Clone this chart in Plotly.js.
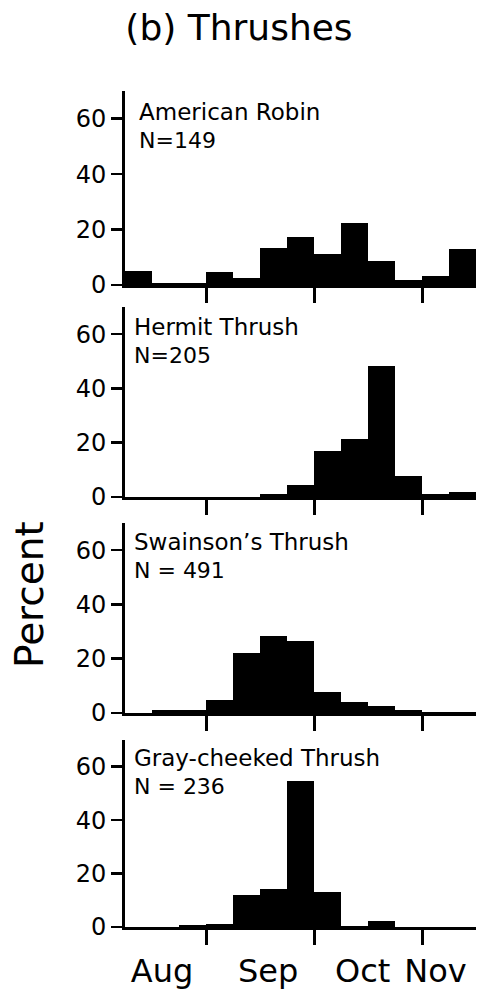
<!DOCTYPE html>
<html>
<head>
<meta charset="utf-8">
<script src="https://cdn.plot.ly/plotly-3.0.1.min.js"></script>
<style>html,body{margin:0;padding:0;background:#fff;}</style>
</head>
<body>
<div id="chart" style="width:484px;height:994px;"></div>
<script>
// Weekly bins (13 bins, Aug -> Nov); values are percent of birds per bin
const binCount = 13;
const species = ["American Robin", "Hermit Thrush", "Swainson\u2019s Thrush", "Gray-cheeked Thrush"];
const sampleSizes = ["N=149", "N=205", "N = 491", "N = 236"];
const robin      = [5, 0.7, 0.7, 4.5, 2.4, 13.4, 17.2, 11.3, 22.2, 8.5, 1.8, 3.2, 12.9];
const hermit     = [0, 0, 0, 0, 0, 1, 4.3, 17.1, 21.2, 48.4, 7.6, 1.2, 1.9];
const swainsons  = [0, 1, 1, 4.9, 22.1, 28.2, 26.7, 7.9, 3.9, 2.7, 1.2, 0.4, 0.2];
const grayCheek  = [0, 0, 0.6, 1.2, 12, 14.2, 54.7, 13.2, 0.5, 2.1, 0, 0, 0];
const monthBoundaries = [3, 7, 11];          // Sep 1, Oct 1, Nov 1 in bin units
const monthNames = ["Aug", "Sep", "Oct", "Nov"];
const monthLabelPos = [1.37, 5.3, 8.8, 11.5];
const yTicks = [0, 20, 40, 60];

const series = [robin, hermit, swainsons, grayCheek];
const FONT = "DejaVu Sans";
const domains = [[0.768, 1.0], [0.5144, 0.7416], [0.256, 0.4833], [0, 0.2237]];
const nameXShift = [12, 7, 7, 7];
// label centres in page pixels (plot area spans 91..927 vertically)
const namePy = [111.5, 327.25, 541.5, 758.25];
const nPy = [140, 355.75, 570, 786.75];
const toPaperY = py => (927 - py) / 836;

const traces = series.map((vals, i) => ({
  type: "bar",
  x: vals.map((_, k) => k + 0.5),
  y: vals,
  width: 1,
  marker: {color: "#000", line: {width: 0}},
  xaxis: i === 0 ? "x" : "x" + (i + 1),
  yaxis: i === 0 ? "y" : "y" + (i + 1),
  hoverinfo: "skip",
  showlegend: false
}));

const layout = {
  width: 484, height: 994,
  margin: {l: 125, r: 8, t: 91, b: 67},
  paper_bgcolor: "#fff", plot_bgcolor: "#fff",
  bargap: 0,
  showlegend: false,
  font: {family: FONT, color: "#000"},
  title: {
    text: "(b) Thrushes",
    font: {family: FONT, size: 36, color: "#000"},
    xref: "container", x: 239 / 484, xanchor: "center",
    yref: "container", y: 1 - 27 / 994, yanchor: "middle"
  },
  annotations: []
};

for (let i = 0; i < 4; i++) {
  const sx = i === 0 ? "" : String(i + 1);
  layout["xaxis" + sx] = {
    domain: [0, 1], range: [0, binCount], anchor: "y" + sx,
    showline: true, linewidth: 3, linecolor: "#000",
    ticks: "outside", tickmode: "array", tickvals: monthBoundaries,
    ticklen: 15, tickwidth: 3, tickcolor: "#000",
    showticklabels: false, showgrid: false, zeroline: false, fixedrange: true
  };
  layout["yaxis" + sx] = {
    domain: domains[i], range: [0, 70], anchor: "x" + sx,
    showline: true, linewidth: 3, linecolor: "#000",
    ticks: "outside", tickmode: "array", tickvals: yTicks,
    ticklen: 11, tickwidth: 2.5, tickcolor: "#000",
    tickfont: {family: FONT, size: 24, color: "#000"},
    showgrid: false, zeroline: false, fixedrange: true
  };
  layout.annotations.push({
    xref: "x" + sx + " domain", yref: "paper",
    x: 0, y: toPaperY(namePy[i]), xanchor: "left", yanchor: "middle", xshift: nameXShift[i],
    text: species[i], showarrow: false,
    font: {family: FONT, size: 23, color: "#000"}
  });
  layout.annotations.push({
    xref: "x" + sx + " domain", yref: "paper",
    x: 0, y: toPaperY(nPy[i]), xanchor: "left", yanchor: "middle", xshift: nameXShift[i],
    text: sampleSizes[i], showarrow: false,
    font: {family: FONT, size: 22, color: "#000"}
  });
}

// month labels on an overlaying axis of the bottom panel
layout.xaxis5 = {
  overlaying: "x4", anchor: "y4", side: "bottom",
  range: [0, binCount], showline: false, ticks: "",
  tickmode: "array", tickvals: monthLabelPos, ticktext: monthNames,
  tickfont: {family: FONT, size: 32, color: "#000"},
  ticklabelstandoff: 22,
  showgrid: false, zeroline: false, fixedrange: true
};
traces.push({type: "bar", x: [0.5], y: [0], xaxis: "x5", yaxis: "y4",
  marker: {color: "rgba(0,0,0,0)"}, hoverinfo: "skip", showlegend: false});

layout.annotations.push({
  xref: "paper", yref: "paper",
  x: (29 - 125) / 351, y: toPaperY(594),
  xanchor: "center", yanchor: "middle", textangle: -90,
  text: "Percent", showarrow: false,
  font: {family: FONT, size: 39, color: "#000"}
});

Plotly.newPlot("chart", traces, layout, {staticPlot: true, displayModeBar: false});
</script>
</body>
</html>
